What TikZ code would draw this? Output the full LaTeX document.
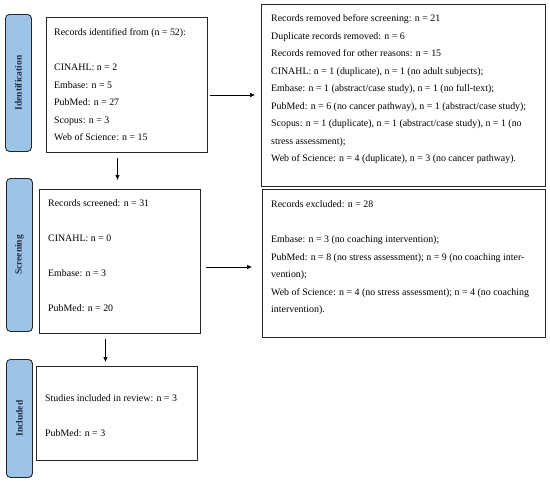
\documentclass[tikz,border=0pt]{standalone}
\usepackage{fontspec}
\setmainfont{Liberation Serif}
\usetikzlibrary{arrows.meta,calc}
\newcommand{\fl}{\rule{0pt}{8pt}}
\begin{document}
\begin{tikzpicture}[x=1pt,y=-1pt,
  box/.style={draw=black!85, line width=0.9pt, anchor=north west, inner sep=0pt},
  bar/.style={draw=black!85, fill=barblue, line width=0.9pt, rounded corners=4pt, anchor=north west, inner sep=0pt},
  barlabel/.style={rotate=90, font=\fontsize{9.5}{10}\selectfont\bfseries, text=navy},
  txt/.style={anchor=north west, align=left, inner sep=0pt, font=\fontsize{9.9}{17.5}\selectfont},
  arr/.style={-{Latex[length=5pt,width=4.5pt]}, line width=0.6pt, black}]
\definecolor{barblue}{HTML}{9DC3E6}
\definecolor{navy}{HTML}{1F2A44}
\useasboundingbox (0,0) rectangle (550,482);
% side bars
\node[bar, minimum width=26pt, minimum height=137pt] (sb1) at (5,14) {};
\node[barlabel] (l1) at (sb1.center) {Identification};
\node[bar, minimum width=26pt, minimum height=153pt] (sb2) at (6,178) {};
\node[barlabel] (l2) at (sb2.center) {Screening};
\node[bar, minimum width=26pt, minimum height=118pt] (sb3) at (6,359) {};
\node[barlabel] (l3) at (sb3.center) {Included};
% boxes
\node[box, minimum width=161pt, minimum height=135pt] (b1) at (46,17) {};
\node[box, minimum width=284pt, minimum height=182pt] (b2) at (261,4) {};
\node[box, minimum width=161pt, minimum height=144pt] (b3) at (39,189) {};
\node[box, minimum width=283pt, minimum height=148pt] (b4) at (262,189) {};
\node[box, minimum width=161pt, minimum height=94pt] (b5) at (36,366) {};
% texts
\node[txt] (t1) at (54,27.5) {\fl Records identified from (n = 52):\\[17.5pt]
CINAHL: n = 2\\ Embase: n = 5\\ PubMed: n = 27\\ Scopus: n = 3\\ Web of Science: n = 15};
\node[txt] (t2) at (271,13.5) {\fl Records removed before screening: n = 21\\
Duplicate records removed: n = 6\\
Records removed for other reasons: n = 15\\
CINAHL: n = 1 (duplicate), n = 1 (no adult subjects);\\
Embase: n = 1 (abstract/case study), n = 1 (no full-text);\\
PubMed: n = 6 (no cancer pathway), n = 1 (abstract/case study);\\
Scopus: n = 1 (duplicate), n = 1 (abstract/case study), n = 1 (no\\
stress assessment);\\
Web of Science: n = 4 (duplicate), n = 3 (no cancer pathway).};
\node[txt, font=\fontsize{9.9}{35}\selectfont] (t3) at (48,198.5) {\fl Records screened: n = 31\\
CINAHL: n = 0\\ Embase: n = 3\\ PubMed: n = 20};
\node[txt] (t4) at (271,199.5) {\fl Records excluded: n = 28\\[17.5pt]
Embase: n = 3 (no coaching intervention);\\
PubMed: n = 8 (no stress assessment); n = 9 (no coaching inter-\\
vention);\\
Web of Science: n = 4 (no stress assessment); n = 4 (no coaching\\
intervention).};
\node[txt, font=\fontsize{9.9}{35}\selectfont] (t5) at (45,393.5) {\fl Studies included in review: n = 3\\ PubMed: n = 3};
% arrows
\draw[arr] ([xshift=2pt]b1.east |- 0,95) -- ([xshift=-6pt]b2.west |- 0,95);
\draw[arr] ([xshift=-9.5pt,yshift=-5pt]b1.south) -- ([xshift=-2.5pt,yshift=9pt]b3.north);
\draw[arr] ([xshift=5pt]b3.east |- 0,267) -- ([xshift=-10pt]b4.west |- 0,267);
\draw[arr] ([xshift=-14.5pt,yshift=-5pt]b3.south) -- ([xshift=-11.5pt,yshift=4pt]b5.north);
\end{tikzpicture}
\end{document}
